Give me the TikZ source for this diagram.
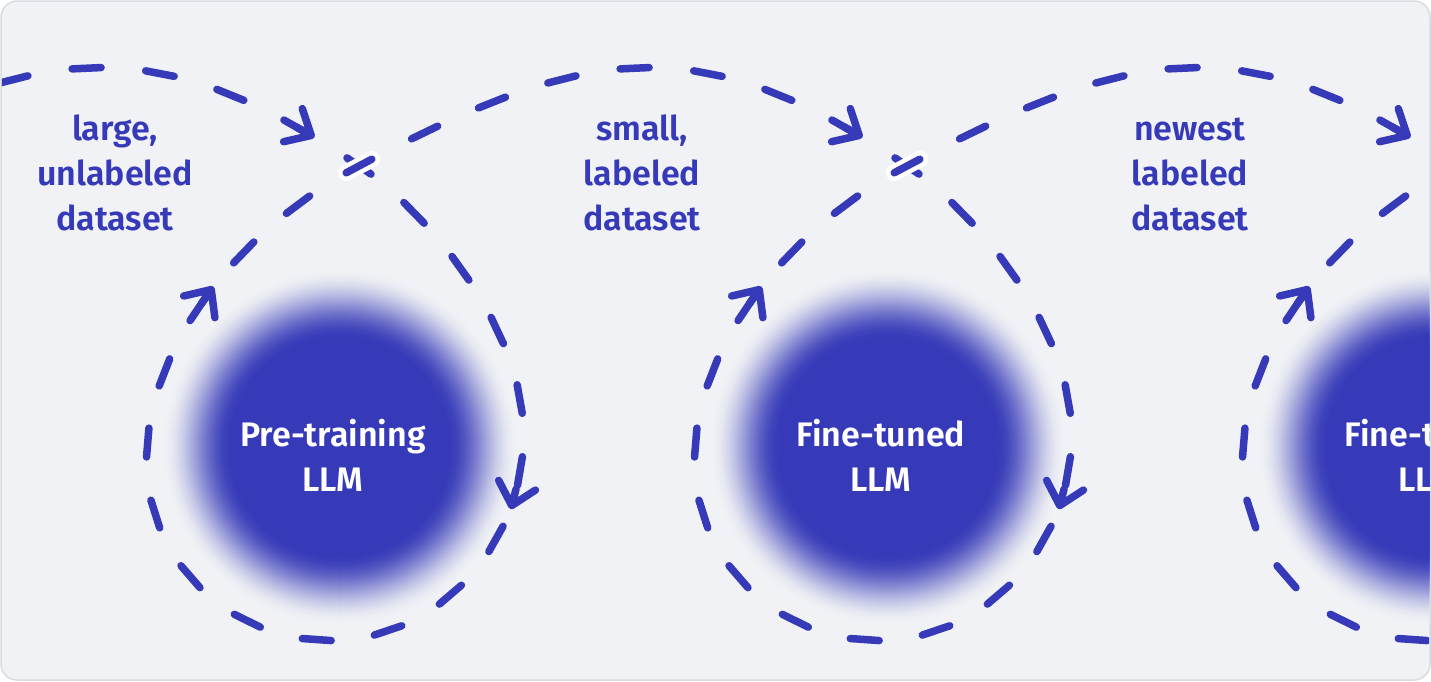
\documentclass[tikz,border=0pt]{standalone}
\usepackage{fontspec}
\setmainfont{Fira Sans}[BoldFont={Fira Sans SemiBold}]
\usetikzlibrary{calc, decorations.markings}
\definecolor{ink}{HTML}{363AB8}
\definecolor{panel}{HTML}{F0F2F5}
\definecolor{rim}{HTML}{D9DCE1}
\newcommand{\dashseg}{\draw[dash seg] (-14.5,0) -- (14.5,0);}
\newcommand{\barbs}{\draw[dash seg] (0,0) -- (17,0) (-4,19) -- (17,0) -- (-4,-19);}
% one upper arc from a crossing to the next, one loop round a model
\newcommand{\arcpath}[1]{(#1,166) .. controls ({#1+224.3},46.9) and ({#1+337.4},24) .. ({#1+548},166)}
\newcommand{\looppath}[1]{(#1,166)
  .. controls ({#1+66.3},210.7) and ({#1+164},325) .. ({#1+164},435)
  .. controls ({#1+164},546) and ({#1+78},640) .. ({#1-29},640)
  .. controls ({#1-130},640) and ({#1-212},560) .. ({#1-212},460)
  .. controls ({#1-212},350) and ({#1-123.6},231.7) .. (#1,166)}
\tikzset{
  lbl/.style={font=\bfseries\fontsize{34}{45}\selectfont, text=ink,
    align=center, inner sep=0pt, anchor=north},
  llm text/.style={lbl, text=white},
  dash seg/.style={ink, line width=7.5pt, line cap=round, line join=round},
  arc dashes/.style={decorate, decoration={markings,
      mark=between positions 0 and 1 step 0.125 with {\dashseg}}},
  arc arrow/.style={decorate, decoration={markings,
      mark=at position 0.875 with {\barbs}}},
  loop dashes/.style={decorate, decoration={markings,
      mark=between positions 0 and 1 step 0.05555 with {\dashseg}}},
  loop arrows/.style={decorate, decoration={markings,
      mark=at position 0.292 with {\barbs},
      mark=at position 0.838 with {\barbs}}},
  halo/.style={white, line width=16.5pt, line cap=round}
}
\begin{document}
\begin{tikzpicture}[x=1pt, y=-1pt]
  \useasboundingbox (0,0) rectangle (1431,681);
  % panel
  \draw[rim, fill=panel, line width=1.5pt, rounded corners=16pt] (1,1) rectangle (1430,680);

  \begin{scope}
    \clip[rounded corners=16pt] (1.8,1.8) rectangle (1429.2,679.2);

    % glowing models
    \foreach \k/\name/\txt in {0/pretrain/Pre-training, 1/finetune/Fine-tuned, 2/newtune/Fine-tuned} {
      \pgfmathsetmacro{\cx}{333+548*\k}
      \coordinate (glow-\name) at ({\cx+7},447);
      \foreach \i in {0,...,70} {
        \pgfmathsetmacro{\t}{\i/70}
        \pgfmathsetmacro{\p}{100*(3*\t*\t-2*\t*\t*\t)}
        \fill[ink!\p!panel] (glow-\name) circle[radius={178-\i}];
      }
      \node[llm text] (\name) at (\cx,415.2) {\strut\txt\\LLM\strut};
    }

    % datasets
    \node[lbl] (data1) at (115,108.5) {\strut large,\\unlabeled\\dataset\strut};
    \node[lbl] (data2) at (642,108.5) {\strut small,\\labeled\\dataset\strut};
    \node[lbl] (data3) at (1190,108.5) {\strut newest\\labeled\\dataset\strut};

    % upper arcs
    \foreach \k in {-1,0,1,2} {
      \pgfmathsetmacro{\xa}{359+548*\k}
      \path[arc dashes] \arcpath{\xa};
      \path[arc arrow] \arcpath{\xa};
    }

    % loops round each model
    \foreach \k in {0,1,2} {
      \pgfmathsetmacro{\xa}{359+548*\k}
      \path[loop dashes] \looppath{\xa};
      \path[loop arrows] \looppath{\xa};
      % crossing, upper strand on top
      \coordinate (cross-\k) at (\xa,166);
      \draw[halo] ($(cross-\k)+(-12.8,6.8)$) -- ($(cross-\k)+(12.8,-6.8)$);
      \draw[dash seg] ($(cross-\k)+(-12.8,6.8)$) -- ($(cross-\k)+(12.8,-6.8)$);
    }
  \end{scope}
\end{tikzpicture}
\end{document}
